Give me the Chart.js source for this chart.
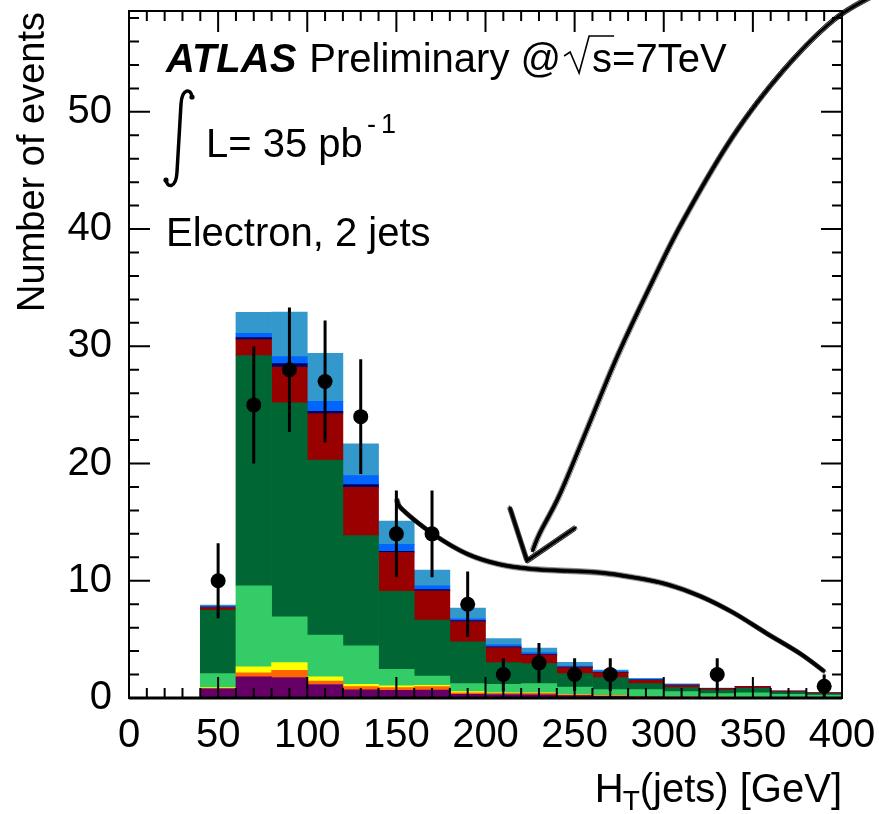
<!DOCTYPE html>
<html>
<head>
<meta charset="utf-8">
<script src="https://cdn.jsdelivr.net/npm/chart.js@4/dist/chart.umd.min.js"></script>
<style>
  html, body { margin: 0; padding: 0; background: #fff; }
  #wrap { width: 879px; height: 814px; }
</style>
</head>
<body>
<div id="wrap"><canvas id="htChart" width="879" height="814"></canvas></div>
<script>
// H_T(jets) bins, 20 GeV wide, given by their centres
const binCenters = [50, 70, 90, 110, 130, 150, 170, 190, 210, 230, 250, 270, 290, 310, 330, 350, 370, 390];

// stacked expectation, bottom to top
const stackPurple     = [0.79, 1.80, 1.75, 1.15, 0.70, 0.66, 0.68, 0.32, 0.30, 0.26, 0.20, 0.15, 0.10, 0.08, 0.06, 0.05, 0.04, 0.03];
const stackOrange     = [0.04, 0.35, 0.62, 0.30, 0.27, 0.22, 0.29, 0.13, 0.10, 0.14, 0.08, 0.05, 0.02, 0.01, 0.01, 0.01, 0.00, 0.00];
const stackYellow     = [0.05, 0.50, 0.65, 0.35, 0.20, 0.15, 0.12, 0.09, 0.05, 0.05, 0.02, 0.02, 0.01, 0.01, 0.00, 0.00, 0.00, 0.00];
const stackLightGreen = [1.20, 6.92, 3.90, 3.56, 3.27, 1.42, 0.79, 0.68, 0.72, 0.77, 0.64, 0.49, 0.58, 0.44, 0.30, 0.39, 0.28, 0.22];
const stackDarkGreen  = [5.42, 19.63, 18.25, 14.94, 9.41, 6.64, 4.76, 3.57, 1.85, 1.71, 1.14, 1.03, 0.51, 0.34, 0.31, 0.38, 0.19, 0.10];
const stackRed        = [0.22, 1.37, 3.05, 3.95, 4.12, 3.33, 2.51, 1.73, 1.28, 0.75, 0.51, 0.42, 0.29, 0.21, 0.12, 0.14, 0.09, 0.10];
const stackNavy       = [0.04, 0.17, 0.30, 0.20, 0.23, 0.10, 0.10, 0.08, 0.06, 0.05, 0.04, 0.04, 0.03, 0.02, 0.01, 0.00, 0.00, 0.00];
const stackBlue       = [0.08, 0.36, 0.60, 0.85, 0.77, 0.58, 0.32, 0.18, 0.17, 0.14, 0.10, 0.10, 0.06, 0.05, 0.02, 0.00, 0.00, 0.00];
const stackLightBlue  = [0.08, 1.80, 3.80, 4.10, 2.71, 1.99, 1.34, 0.89, 0.54, 0.38, 0.32, 0.09, 0.08, 0.05, 0.02, 0.01, 0.00, 0.00];

// observed events and their error bars (empty bins left out)
const dataCounts = [10, 25, 28, 27, 24, 14, 14, 8, 2, 3, 2, 2, null, null, 2, null, null, 1];
const dataErrors = [3.2, 5.0, 5.3, 5.2, 4.9, 3.7, 3.7, 2.8, 1.4, 1.7, 1.4, 1.4, null, null, 1.4, null, null, 1.0];

const xTickStep = 50;
const yTickStep = 10;

const FONT = '"Liberation Sans", Arial, Helvetica, sans-serif';

const stackLayers = [
    [stackPurple, "#660066"],
    [stackOrange, "#ff6600"],
    [stackYellow, "#ffff00"],
    [stackLightGreen, "#33cc66"],
    [stackDarkGreen, "#006633"],
    [stackRed, "#990000"],
    [stackNavy, "#000066"],
    [stackBlue, "#0066ff"],
    [stackLightBlue, "#3399cc"]
];

// hand drawn arrows, in (GeV, events)
const sketchLong = [[418.5, 60.0], [395.0, 57.8], [366.9, 53.5], [338.8, 47.9], [310.8, 40.7], [292.3, 35.1],
                    [273.8, 29.1], [256.9, 22.9], [241.8, 17.4], [230.6, 14.1], [226.5, 12.6]];
const sketchHead = [[213.7, 16.2], [223.3, 11.7], [250.2, 14.5]];
const sketchCurve = [[150.4, 16.9], [153.2, 16.1], [170.5, 14.0], [189.6, 12.3], [208.0, 11.4], [226.5, 11.0],
                     [245.7, 10.85], [264.2, 10.7], [282.7, 10.3], [301.8, 9.7], [320.3, 8.7], [338.8, 7.3],
                     [357.9, 5.5], [376.4, 3.8], [389.8, 2.3]];

function toPx(chart, pts) {
    const { x, y } = chart.scales;
    return pts.map(p => [x.getPixelForValue(p[0]), y.getPixelForValue(p[1])]);
}

// several loose passes over one path, like a pencil scribble
function sketch(ctx, pts, straight) {
    const passes = [[0, 0, 3.2], [1.5, -1.0, 1.2], [-1.4, 1.1, 1.2], [0.8, 2.0, 0.9], [-1.0, -1.9, 0.9],
                    [2.6, 0.7, 0.6], [-2.6, -0.5, 0.6], [0.3, 2.8, 0.5], [-0.4, -2.7, 0.5]];
    passes.forEach(([dx, dy, w], k) => {
        ctx.lineWidth = w;
        ctx.strokeStyle = k === 0 ? "#000" : "rgba(0,0,0,0.75)";
        ctx.beginPath();
        ctx.moveTo(pts[0][0] + dx, pts[0][1] + dy);
        for (let i = 0; i < pts.length - 1; i++) {
            const p0 = pts[i - 1] || pts[i], p1 = pts[i], p2 = pts[i + 1], p3 = pts[i + 2] || p2;
            if (straight) {
                ctx.lineTo(p2[0] + dx, p2[1] + dy);
                continue;
            }
            ctx.bezierCurveTo(
                p1[0] + (p2[0] - p0[0]) / 6 + dx, p1[1] + (p2[1] - p0[1]) / 6 + dy,
                p2[0] - (p3[0] - p1[0]) / 6 + dx, p2[1] - (p3[1] - p1[1]) / 6 + dy,
                p2[0] + dx, p2[1] + dy);
        }
        ctx.stroke();
    });
}

const errorBars = {
    id: "errorBars",
    afterDatasetsDraw(chart) {
        const { ctx, scales: { x, y } } = chart;
        ctx.save();
        ctx.strokeStyle = "#000";
        ctx.lineWidth = 3;
        ctx.beginPath();
        binCenters.forEach((c, i) => {
            if (dataCounts[i] === null) return;
            const px = x.getPixelForValue(c);
            ctx.moveTo(px, y.getPixelForValue(Math.max(0, dataCounts[i] - dataErrors[i])));
            ctx.lineTo(px, y.getPixelForValue(dataCounts[i] + dataErrors[i]));
        });
        ctx.stroke();
        ctx.restore();
    }
};

const frameAndText = {
    id: "frameAndText",
    afterDraw(chart) {
        const { ctx, chartArea: a, scales: { x, y } } = chart;
        ctx.save();

        // inward ticks on all four sides
        ctx.strokeStyle = "#000";
        ctx.lineWidth = 2;
        ctx.beginPath();
        for (let v = x.min; v <= x.max + 1e-6; v += xTickStep / 5) {
            const px = x.getPixelForValue(v);
            const len = Math.abs(v % xTickStep) < 1e-6 ? 21 : 10;
            ctx.moveTo(px, a.bottom); ctx.lineTo(px, a.bottom - len);
            ctx.moveTo(px, a.top); ctx.lineTo(px, a.top + len);
        }
        for (let v = y.min; v <= y.max + 1e-6; v += yTickStep / 5) {
            const py = y.getPixelForValue(v);
            const len = Math.abs(v % yTickStep) < 1e-6 ? 21 : 10;
            ctx.moveTo(a.left, py); ctx.lineTo(a.left + len, py);
            ctx.moveTo(a.right, py); ctx.lineTo(a.right - len, py);
        }
        ctx.stroke();
        ctx.lineWidth = 2;
        ctx.strokeRect(a.left, a.top, a.right - a.left, a.bottom - a.top);
        ctx.lineWidth = 3;
        ctx.beginPath();
        ctx.moveTo(a.left, a.bottom); ctx.lineTo(a.right, a.bottom);
        ctx.stroke();

        // labels
        ctx.fillStyle = "#000";
        ctx.textBaseline = "alphabetic";
        ctx.textAlign = "left";
        const lx = a.left + 37;
        let tx = lx;
        ctx.font = "italic bold 40px " + FONT;
        ctx.fillText("ATLAS", tx, a.top + 61);
        tx += ctx.measureText("ATLAS").width + 13;
        ctx.font = "40px " + FONT;
        ctx.fillText("Preliminary @", tx, a.top + 61);
        tx += ctx.measureText("Preliminary @").width + 3;
        ctx.lineWidth = 1.6;
        ctx.beginPath();
        ctx.moveTo(tx, a.top + 45);
        ctx.lineTo(tx + 6, a.top + 41);
        ctx.lineTo(tx + 15, a.top + 62);
        ctx.lineTo(tx + 25, a.top + 25);
        ctx.lineTo(tx + 50, a.top + 25);
        ctx.stroke();
        ctx.fillText("s=7TeV", tx + 28, a.top + 61);

        // integral sign
        const iy = a.top;
        ctx.lineWidth = 3.5;
        ctx.lineCap = "round";
        ctx.beginPath();
        ctx.moveTo(lx + 26, iy + 86);
        ctx.bezierCurveTo(lx + 25, iy + 77, lx + 16, iy + 77, lx + 15, iy + 93);
        ctx.lineTo(lx + 11, iy + 161);
        ctx.bezierCurveTo(lx + 10, iy + 178, lx + 1, iy + 177, lx, iy + 169);
        ctx.stroke();
        ctx.beginPath(); ctx.arc(lx + 26, iy + 86, 2.6, 0, 2 * Math.PI); ctx.fill();
        ctx.beginPath(); ctx.arc(lx, iy + 169, 2.6, 0, 2 * Math.PI); ctx.fill();
        ctx.fillText("L= 35 pb", lx + 40, iy + 146);
        ctx.font = "27px " + FONT;
        ctx.fillText("-", lx + 201, iy + 122);
        ctx.fillText("1", lx + 215, iy + 122);

        ctx.font = "40px " + FONT;
        ctx.fillText("Electron, 2 jets", lx, iy + 235);

        // axis titles
        ctx.textAlign = "right";
        ctx.fillText("(jets) [GeV]", a.right, 802);
        const w1 = ctx.measureText("(jets) [GeV]").width;
        ctx.font = "28px " + FONT;
        ctx.fillText("T", a.right - w1, 810);
        const w2 = ctx.measureText("T").width;
        ctx.font = "40px " + FONT;
        ctx.fillText("H", a.right - w1 - w2 + 1, 802);

        ctx.save();
        ctx.translate(44, a.top + 1);
        ctx.rotate(-Math.PI / 2);
        ctx.font = "38px " + FONT;
        ctx.textAlign = "right";
        ctx.fillText("Number of events", 0, 0);
        ctx.restore();

        // hand drawn arrows
        ctx.lineCap = "round";
        ctx.lineJoin = "miter";
        sketch(ctx, toPx(chart, sketchLong), false);
        sketch(ctx, toPx(chart, sketchHead), true);
        sketch(ctx, toPx(chart, sketchCurve), false);
        ctx.restore();
    }
};

function noScalePadding(s) {
    s.paddingTop = 0;
    s.paddingBottom = 0;
    s.paddingLeft = 0;
    s.paddingRight = 0;
}

document.addEventListener("DOMContentLoaded", function () {
    const ctx = document.getElementById("htChart").getContext("2d");

    const barSets = stackLayers.map(([vals, color]) => ({
        type: "bar",
        data: binCenters.map((c, i) => ({ x: c, y: vals[i] })),
        backgroundColor: color,
        borderWidth: 0,
        barPercentage: 1,
        categoryPercentage: 1,
        order: 1
    }));

    new Chart(ctx, {
        type: "bar",
        data: {
            datasets: [{
                type: "scatter",
                data: binCenters.map((c, i) => ({ x: c, y: dataCounts[i] })),
                backgroundColor: "#000",
                borderWidth: 0,
                pointRadius: 7.5,
                stack: "data",
                order: 0
            }].concat(barSets)
        },
        options: {
            responsive: false,
            animation: false,
            devicePixelRatio: 1,
            layout: { padding: { top: 11, right: 37, left: 0, bottom: 0 } },
            plugins: { legend: { display: false }, tooltip: { enabled: false } },
            scales: {
                x: {
                    type: "linear", min: 0, max: 400, offset: false, stacked: true,
                    grid: { display: false, drawTicks: false },
                    border: { display: false },
                    ticks: { stepSize: xTickStep, autoSkip: false, maxRotation: 0, color: "#000", padding: 14,
                             font: { family: FONT, size: 40 } },
                    afterFit(s) { s.height = 116; noScalePadding(s); }
                },
                y: {
                    type: "linear", min: 0, max: 58.6, stacked: true,
                    grid: { display: false, drawTicks: false },
                    border: { display: false },
                    ticks: { stepSize: yTickStep, includeBounds: false, color: "#000", padding: 17,
                             font: { family: FONT, size: 40 } },
                    afterFit(s) { s.width = 129; noScalePadding(s); }
                }
            }
        },
        plugins: [errorBars, frameAndText]
    });
});
</script>
</body>
</html>
